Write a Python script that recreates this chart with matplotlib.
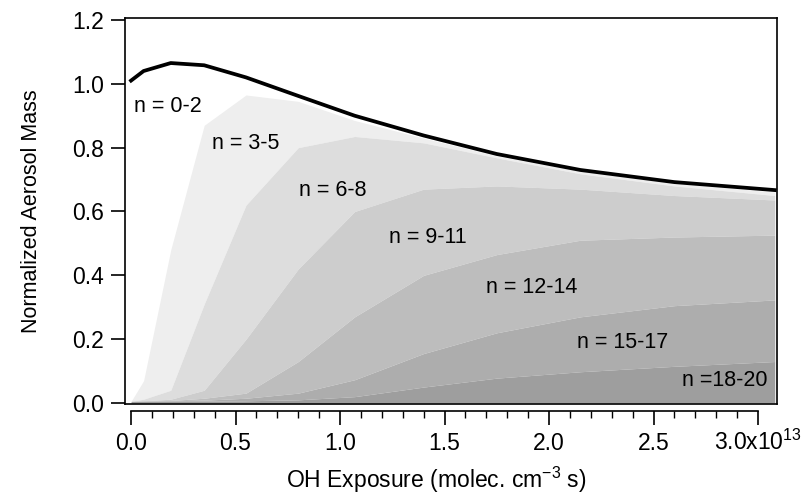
"""Stacked aerosol mass by oxidation bin vs. OH exposure."""

import matplotlib

matplotlib.use("Agg")
import matplotlib.pyplot as plt
from matplotlib.ticker import FuncFormatter, MultipleLocator

plt.rcParams["font.family"] = ["Liberation Sans", "DejaVu Sans"]
plt.rcParams["mathtext.fontset"] = "custom"
plt.rcParams["mathtext.rm"] = "Liberation Sans"
plt.rcParams["mathtext.default"] = "regular"

# OH exposure, units of 1e13 molec cm^-3 s
OH_EXPOSURE = [0.0, 0.06, 0.19, 0.35, 0.55, 0.80, 1.07, 1.40, 1.75, 2.15, 2.60, 3.08]

# total normalized mass (black curve)
TOTAL_MASS = [1.01, 1.04, 1.065, 1.058, 1.02, 0.962, 0.900, 0.838, 0.780, 0.730, 0.692, 0.667]

# cumulative tops of each stacked band
TOP_3_5 = [0.005, 0.07, 0.48, 0.87, 0.965, 0.945, 0.885, 0.830, 0.774, 0.726, 0.688, 0.661]
TOP_6_8 = [0.005, 0.012, 0.04, 0.31, 0.62, 0.80, 0.835, 0.815, 0.768, 0.718, 0.680, 0.650]
TOP_9_11 = [0.005, 0.007, 0.012, 0.04, 0.20, 0.42, 0.60, 0.67, 0.68, 0.67, 0.65, 0.636]
TOP_12_14 = [0.005, 0.006, 0.008, 0.015, 0.031, 0.13, 0.27, 0.40, 0.465, 0.51, 0.52, 0.526]
TOP_15_17 = [0.005, 0.006, 0.007, 0.009, 0.015, 0.031, 0.073, 0.155, 0.22, 0.27, 0.305, 0.323]
TOP_18_20 = [0.005, 0.005, 0.006, 0.006, 0.007, 0.010, 0.020, 0.050, 0.078, 0.098, 0.115, 0.130]

BAND_NAMES = ["n = 0-2", "n = 3-5", "n = 6-8", "n = 9-11", "n = 12-14", "n = 15-17", "n =18-20"]

X_TICKS = [0.0, 0.5, 1.0, 1.5, 2.0, 2.5, 3.0]
Y_TICKS = [0.0, 0.2, 0.4, 0.6, 0.8, 1.0, 1.2]
LAST_X_LABEL = "3.0x10$^{13}$"

BAND_COLORS = ["#eeeeee", "#dddddd", "#cdcdcd", "#bdbdbd", "#adadad", "#9e9e9e"]
# label anchor points in data coords (layout only)
LABEL_POS = [(0.175, 0.93), (0.55, 0.813), (0.964, 0.667), (1.421, 0.518),
             (1.916, 0.362), (2.354, 0.19), (2.842, 0.07)]


def x_tick_text(v, _):
    # last label is drawn separately so the exponent can sit on it
    return "" if abs(v - X_TICKS[-1]) < 1e-9 else f"{v:.1f}"


def main() -> None:
    fig = plt.figure(figsize=(8.09, 4.98), dpi=100)
    ax = fig.add_axes([0.1545, 0.1888, 0.806, 0.775])

    tops = [TOP_3_5, TOP_6_8, TOP_9_11, TOP_12_14, TOP_15_17, TOP_18_20]
    for i, top in enumerate(tops):
        lower = tops[i + 1] if i + 1 < len(tops) else [0.0] * len(top)
        ax.fill_between(OH_EXPOSURE, lower, top, color=BAND_COLORS[i], linewidth=0, zorder=1)
    ax.plot(OH_EXPOSURE, TOTAL_MASS, color="black", linewidth=2.7, solid_joinstyle="round", zorder=3)

    for name, (x, y) in zip(BAND_NAMES, LABEL_POS):
        ax.text(x, y, name, fontsize=15.5, ha="center", va="center", zorder=4)

    ax.set_xlim(-0.029, 3.091)
    ax.set_ylim(-0.003, 1.206)

    for side in ("top", "right", "left"):
        ax.spines[side].set_linewidth(1.2)
    ax.spines["bottom"].set_position(("outward", 5))
    ax.spines["bottom"].set_bounds(0.0, 3.0)
    ax.spines["bottom"].set_linewidth(1.2)
    ax.plot([0, 1], [0, 0], transform=ax.transAxes, color="black", linewidth=1.2, clip_on=False, zorder=5)

    ax.set_xticks(X_TICKS)
    ax.xaxis.set_minor_locator(MultipleLocator(0.1))
    ax.xaxis.set_major_formatter(FuncFormatter(x_tick_text))
    ax.set_yticks(Y_TICKS)
    ax.yaxis.set_major_formatter(FuncFormatter(lambda v, _: f"{v:.1f}"))
    ax.tick_params(axis="both", which="major", direction="out", length=10, width=1.2, labelsize=16.5)
    ax.tick_params(axis="x", which="major", pad=5)
    ax.tick_params(axis="y", which="major", pad=5)
    ax.tick_params(axis="x", which="minor", direction="out", length=5, width=1.0)

    ax.annotate(LAST_X_LABEL, xy=(X_TICKS[-1], 0), xycoords=("data", "axes fraction"),
                xytext=(0, -33.3), textcoords="offset points", ha="center", va="baseline", fontsize=16.5)

    ax.set_xlabel("OH Exposure (molec. cm$^{-3}$ s)", fontsize=16.5)
    ax.xaxis.set_label_coords(0.477, -0.158)
    ax.set_ylabel("Normalized Aerosol Mass", fontsize=15.5, labelpad=22)

    fig.savefig("out.png", dpi=100)
    plt.close(fig)


if __name__ == "__main__":
    main()
